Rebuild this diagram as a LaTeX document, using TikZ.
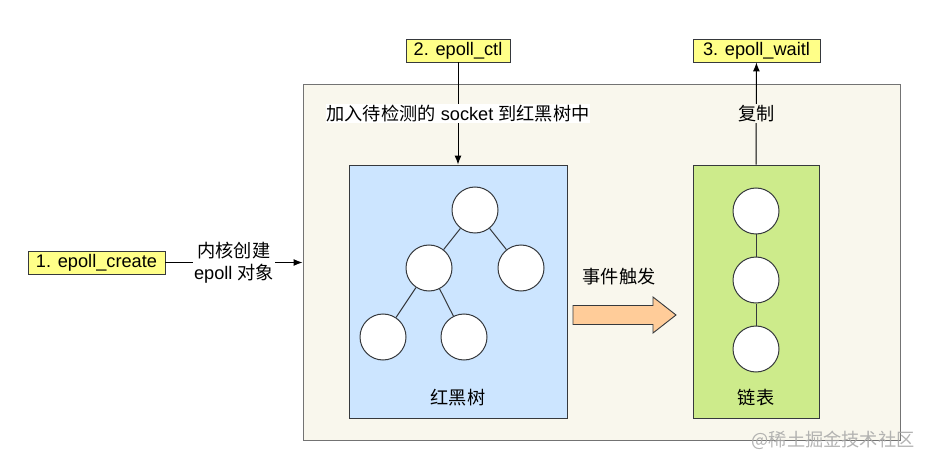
\documentclass[tikz,border=0pt]{standalone}
\usepackage{fontspec}
\setmainfont{Liberation Sans}
\newfontfamily\cjk{Noto Sans CJK SC}
\usepackage{tikz}
\usetikzlibrary{arrows.meta}
\tikzset{>={Latex[length=9pt,width=7pt]}}
\definecolor{kernelbg}{HTML}{F9F7ED}
\definecolor{edgegray}{HTML}{36393D}
\definecolor{callyellow}{HTML}{FFFF88}
\definecolor{treeblue}{HTML}{CCE5FF}
\definecolor{listgreen}{HTML}{CDEB8B}
\definecolor{eventorange}{HTML}{FFCC99}
\tikzset{
  callbox/.style = {draw=edgegray, fill=callyellow, line width=0.9pt, minimum height=23pt, inner sep=0pt},
  ball/.style = {circle, draw=edgegray, fill=white, line width=1pt, minimum size=46pt, inner sep=0pt},
  lbl/.style = {inner sep=1pt, align=center},
}

\begin{document}
\begin{tikzpicture}[x=1pt, y=-1pt, font=\fontsize{18.2}{21.5}\selectfont]
\useasboundingbox (0,0) rectangle (929,465);
% kernel area with the two structures
\node[draw=gray!90!black, fill=kernelbg, line width=1pt, minimum width=597pt, minimum height=355pt, inner sep=0pt] (kernel) at (601.5,262.5) {};
\node[draw=edgegray, fill=treeblue, line width=0.9pt, minimum width=218pt, minimum height=253pt, inner sep=0pt] (tree) at (458,291.5) {};
\node[draw=edgegray, fill=listgreen, line width=0.9pt, minimum width=126pt, minimum height=253pt, inner sep=0pt] (list) at (756,291.5) {};

% system calls
\node[callbox, minimum width=137pt] (create) at (96.5,262.5) {1. epoll\_create};
\node[callbox, minimum width=104pt] (ctl) at (458,50.5) {2. epoll\_ctl};
\node[callbox, minimum width=127pt] (wait) at (756.5,50.5) {3. epoll\_waitl};

\draw[->, line width=1pt] (create) -- node[lbl, fill=white] {{\cjk 内核创建}\\epoll {\cjk 对象}} (kernel.west);
\draw[->, line width=1pt] (ctl) -- node[lbl, fill=white] {{\cjk 加入待检测的} socket {\cjk 到红黑树中}} (tree.north);
\draw[->, line width=1pt] (list.north) -- node[lbl, fill=kernelbg] {\cjk 复制} (wait);

% red-black tree
\node[ball] (root) at (475,210) {};
\node[ball] (left) at (429,268) {};
\node[ball] (right) at (521,268) {};
\node[ball] (leftleft) at (383,337) {};
\node[ball] (leftright) at (464,337) {};
\draw[edgegray, line width=1pt] (root) -- (left);
\draw[edgegray, line width=1pt] (root) -- (right);
\draw[edgegray, line width=1pt] (left) -- (leftleft);
\draw[edgegray, line width=1pt] (left) -- (leftright);
\node[lbl] (treename) at (458,398) {\cjk 红黑树};

% ready list
\node[ball] (first) at (756,211) {};
\node[ball] (second) at (756,280) {};
\node[ball] (third) at (756,349) {};
\draw[edgegray, line width=1pt] (first) -- (second);
\draw[edgegray, line width=1pt] (second) -- (third);
\node[lbl] (listname) at (756,398) {\cjk 链表};

% event arrow
\draw[edgegray, fill=eventorange, line width=0.9pt, line join=miter] (573,305.5) -- (653,305.5) -- (653,297) -- (676,315) -- (653,333) -- (653,324.5) -- (573,324.5) -- cycle;
\node[lbl] (event) at (619,277) {\cjk 事件触发};

% watermark
\node[lbl, text=gray!70, opacity=0.85] (mark) at (833,440) {\cjk @稀土掘金技术社区};
\end{tikzpicture}
\end{document}
